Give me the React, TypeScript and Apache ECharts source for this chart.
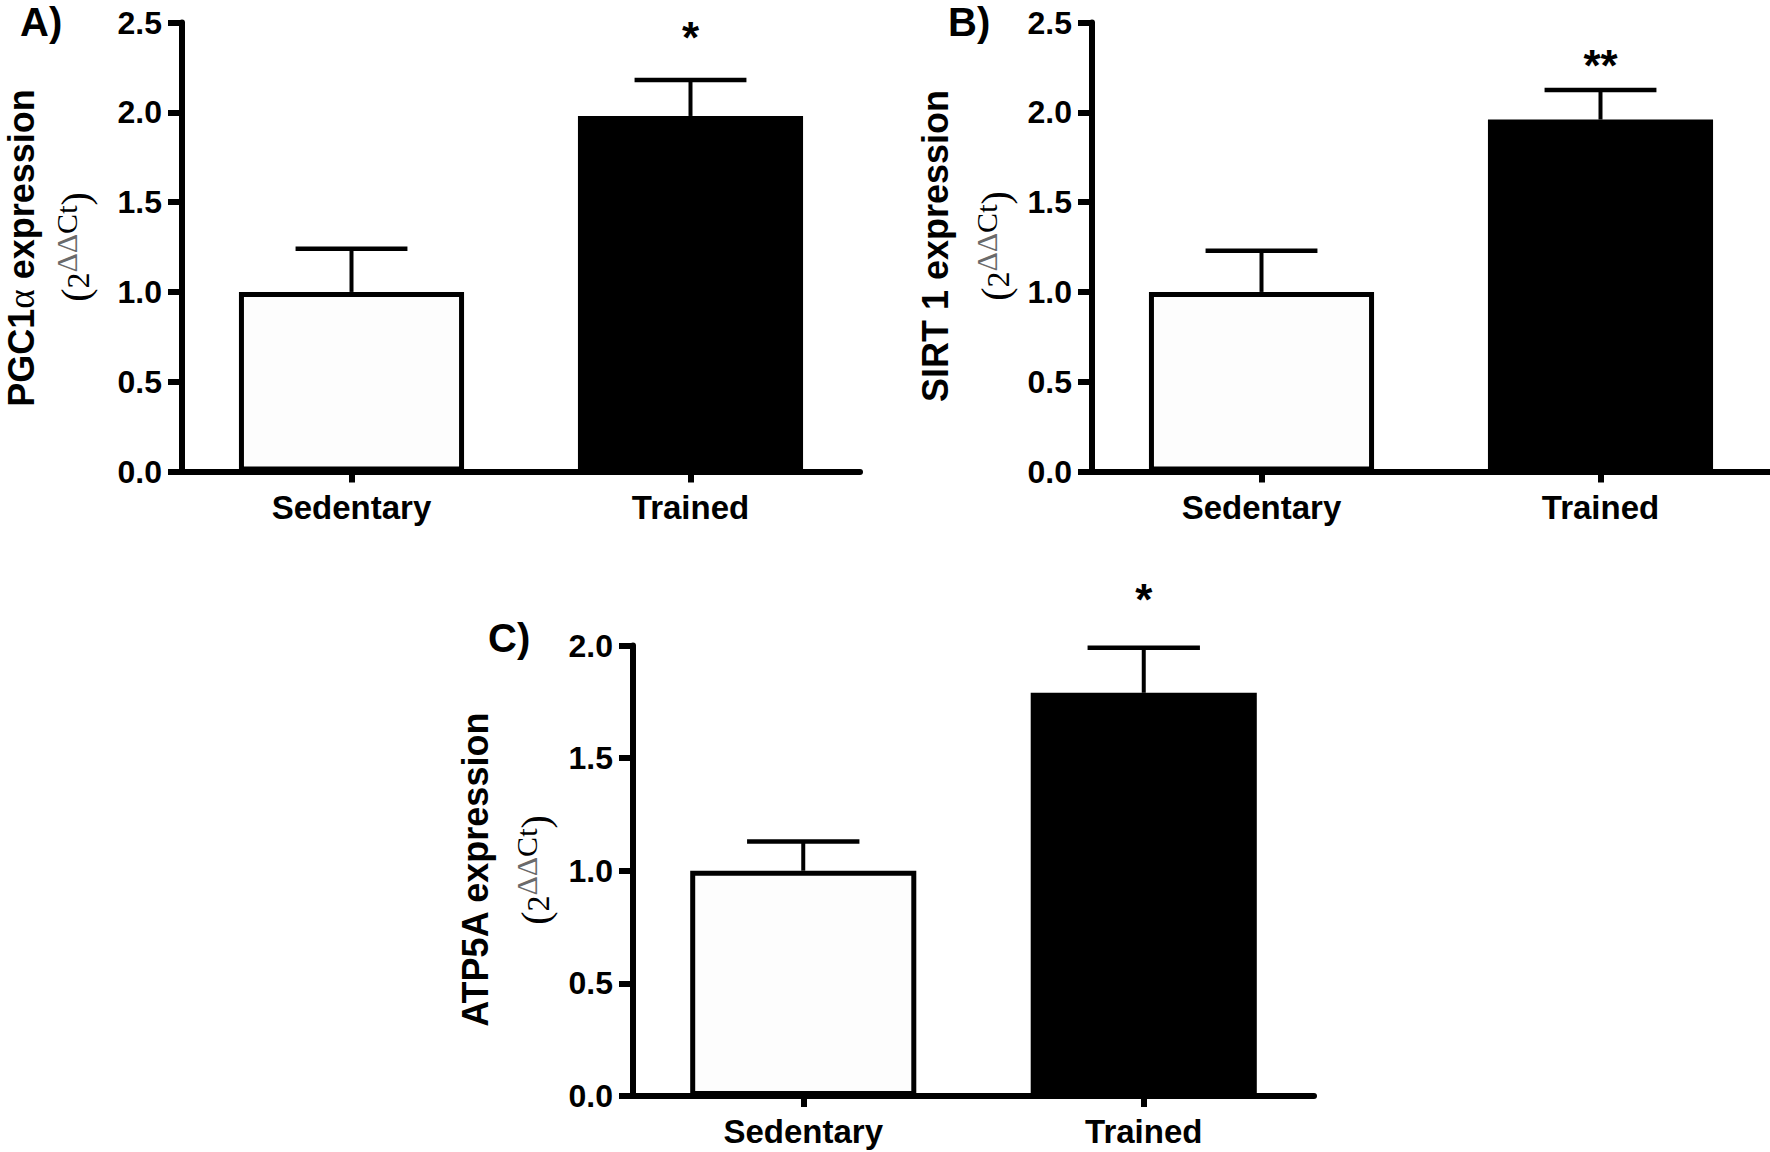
import React, { useEffect, useRef } from "react";
import * as echarts from "echarts";

// ---------- data ----------
const categories = ["Sedentary", "Trained"];

const pgcMean = [1.0, 1.98];
const pgcErr = [0.24, 0.2];
const pgcSig = ["", "*"];

const sirtMean = [1.0, 1.96];
const sirtErr = [0.23, 0.165];
const sirtSig = ["", "**"];

const atpMean = [1.0, 1.79];
const atpErr = [0.13, 0.2];
const atpSig = ["", "*"];

const yTicksAB = [0, 0.5, 1.0, 1.5, 2.0, 2.5];
const yTicksC = [0, 0.5, 1.0, 1.5, 2.0];

// ---------- styles ----------
const SANS = '"Liberation Sans", Arial, Helvetica, sans-serif';
const SERIF = '"Liberation Serif", "Times New Roman", serif';
const BLACK = "#000000";
const barFills = ["#fdfdfd", "#000000"];

type Seg = { t: string; size: number; family: string; weight?: string; raise?: number; color?: string };

let measureCtx: CanvasRenderingContext2D | null = null;
function measure(text: string, size: number, family: string, weight: string) {
  if (!measureCtx) measureCtx = document.createElement("canvas").getContext("2d");
  if (!measureCtx) return text.length * size * 0.55;
  measureCtx.font = `${weight} ${size}px ${family}`;
  return measureCtx.measureText(text).width;
}

// Rotated (bottom-to-top) label made of segments; (bx, cy) = baseline x on screen, centre y on screen
function rotatedLabel(segs: Seg[], bx: number, cy: number) {
  const widths = segs.map((s) => measure(s.t, s.size, s.family, s.weight || "normal"));
  const total = widths.reduce((a, b) => a + b, 0);
  let cur = -total / 2;
  const children: any[] = segs.map((s, i) => {
    const el = {
      type: "text",
      x: cur,
      y: -0.35 * s.size - (s.raise || 0),
      style: {
        text: s.t,
        fontSize: s.size,
        fontFamily: s.family,
        fontWeight: s.weight || "normal",
        fill: s.color || BLACK,
        align: "left",
        verticalAlign: "middle",
      },
    };
    cur += widths[i];
    return el;
  });
  return { type: "group", x: bx, y: cy, rotation: Math.PI / 2, children };
}

function subtitleSegs(): Seg[] {
  return [
    { t: "(", size: 40, family: SERIF },
    { t: "2", size: 32, family: SERIF },
    { t: "\u0394\u0394", size: 30, family: SERIF, raise: 12, color: "#6a6a6a" },
    { t: "Ct", size: 30, family: SERIF, raise: 12 },
    { t: ")", size: 40, family: SERIF },
  ];
}

const panels = [
  {
    grid: { left: 182, top: 22.6, width: 678, height: 448.9 },
    yMax: 2.5,
    ticks: yTicksAB,
    mean: pgcMean,
    err: pgcErr,
    sig: pgcSig,
    letter: "A)",
    letterPos: [20, 22],
    title: [
      { t: "PGC1", size: 36, family: SANS, weight: "bold" },
      { t: "\u03b1", size: 37, family: SERIF },
      { t: " expression", size: 36, family: SANS, weight: "bold" },
    ] as Seg[],
    titlePos: [34, 248],
    subPos: [89, 247],
    starGap: 52,
  },
  {
    grid: { left: 1092, top: 22.6, width: 678, height: 448.9 },
    yMax: 2.5,
    ticks: yTicksAB,
    mean: sirtMean,
    err: sirtErr,
    sig: sirtSig,
    letter: "B)",
    letterPos: [948, 22],
    title: [{ t: "SIRT 1 expression", size: 36, family: SANS, weight: "bold" }] as Seg[],
    titlePos: [948, 246],
    subPos: [1009, 246],
    starGap: 34,
  },
  {
    grid: { left: 633, top: 645.5, width: 681, height: 450.5 },
    yMax: 2.0,
    ticks: yTicksC,
    mean: atpMean,
    err: atpErr,
    sig: atpSig,
    letter: "C)",
    letterPos: [488, 638],
    title: [{ t: "ATP5A expression", size: 36, family: SANS, weight: "bold" }] as Seg[],
    titlePos: [488, 869],
    subPos: [549, 870],
    starGap: 58,
  },
];

function buildOption() {
  const grids = panels.map((p) => ({ ...p.grid, containLabel: false }));

  const xAxes = panels.map((p, i) => ({
    type: "category",
    gridIndex: i,
    data: categories,
    boundaryGap: true,
    axisLine: { show: true, lineStyle: { color: BLACK, width: 6 } },
    axisTick: { show: true, alignWithLabel: true, length: 11, lineStyle: { color: BLACK, width: 6 } },
    axisLabel: {
      margin: 19,
      color: BLACK,
      fontSize: 33,
      fontWeight: "bold",
      fontFamily: SANS,
    },
    splitLine: { show: false },
  }));

  const yAxes = panels.map((p, i) => ({
    type: "value",
    gridIndex: i,
    min: 0,
    max: p.yMax,
    interval: 0.5,
    axisLine: { show: true, lineStyle: { color: BLACK, width: 6 } },
    axisTick: { show: true, length: 14, lineStyle: { color: BLACK, width: 6 } },
    axisLabel: {
      margin: 20,
      color: BLACK,
      fontSize: 32,
      fontWeight: "bold",
      fontFamily: SANS,
      formatter: (v: number) => v.toFixed(1),
    },
    splitLine: { show: false },
  }));

  const barSeries = panels.map((p, i) => ({
    type: "bar",
    xAxisIndex: i,
    yAxisIndex: i,
    barWidth: "66.4%",
    data: p.mean.map((v, j) => ({ value: v, itemStyle: { color: barFills[j] } })),
    itemStyle: { borderColor: BLACK, borderWidth: 5 },
    z: 2,
  }));

  const errSeries = panels.map((p, i) => ({
    type: "custom",
    xAxisIndex: i,
    yAxisIndex: i,
    z: 3,
    encode: { x: 0, y: 2 },
    data: p.mean.map((v, j) => [j, v, v + p.err[j]]),
    renderItem: (params: any, api: any) => {
      const x = api.value(0);
      const m = api.value(1);
      const hi = api.value(2);
      const top = api.coord([x, m]);
      const cap = api.coord([x, hi]);
      const band = api.size([1, 0])[0];
      const half = band * 0.165;
      const children: any[] = [
        {
          type: "line",
          shape: { x1: top[0], y1: top[1], x2: cap[0], y2: cap[1] },
          style: { stroke: BLACK, lineWidth: 4 },
        },
        {
          type: "line",
          shape: { x1: cap[0] - half, y1: cap[1], x2: cap[0] + half, y2: cap[1] },
          style: { stroke: BLACK, lineWidth: 4.5 },
        },
      ];
      const s = p.sig[params.dataIndex];
      if (s) {
        children.push({
          type: "text",
          x: cap[0],
          y: cap[1] - p.starGap + 0.22 * 44,
          style: {
            text: s,
            fontSize: 44,
            fontWeight: "bold",
            fontFamily: SANS,
            fill: BLACK,
            align: "center",
            verticalAlign: "middle",
          },
        });
      }
      return { type: "group", children };
    },
  }));

  const graphic: any[] = [];
  panels.forEach((p) => {
    graphic.push({
      type: "text",
      x: p.letterPos[0],
      y: p.letterPos[1],
      style: {
        text: p.letter,
        fontSize: 40,
        fontWeight: "bold",
        fontFamily: SANS,
        fill: BLACK,
        align: "left",
        verticalAlign: "middle",
      },
    });
    graphic.push(rotatedLabel(p.title, p.titlePos[0], p.titlePos[1]));
    graphic.push(rotatedLabel(subtitleSegs(), p.subPos[0], p.subPos[1]));
  });

  return {
    animation: false,
    backgroundColor: "#ffffff",
    grid: grids,
    xAxis: xAxes,
    yAxis: yAxes,
    series: [...barSeries, ...errSeries],
    graphic,
  };
}

export default function App() {
  const ref = useRef<HTMLDivElement>(null);
  useEffect(() => {
    if (!ref.current) return;
    const chart = echarts.init(ref.current, null, { renderer: "svg", width: 1770, height: 1152 });
    chart.setOption(buildOption() as any);
    return () => chart.dispose();
  }, []);
  return (
    <div
      ref={ref}
      style={{ position: "absolute", left: 0, top: 0, width: 1770, height: 1152, background: "#fff" }}
    />
  );
}
